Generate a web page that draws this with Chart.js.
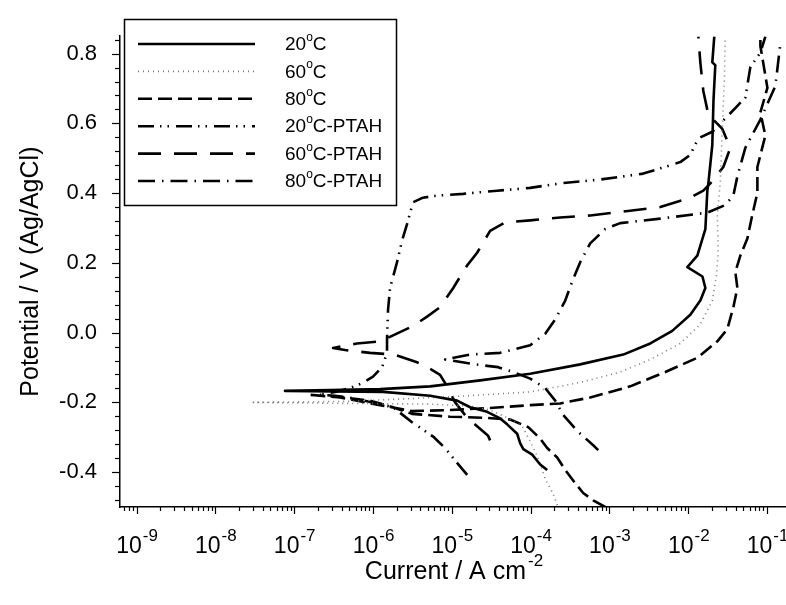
<!DOCTYPE html>
<html>
<head>
<meta charset="utf-8">
<script src="https://cdn.jsdelivr.net/npm/chart.js@4"></script>
<style>
html, body { margin: 0; padding: 0; background: #fff; }
#wrap { width: 786px; height: 605px; }
</style>
</head>
<body>
<div id="wrap"><canvas id="polChart" width="786" height="605"></canvas></div>
<script>
// each curve: log10(current / A cm-2) and potential (V vs Ag/AgCl),
// traced from the cathodic end, through Ecorr, out to the anodic end
const seriesLabels = ['20°C', '60°C', '80°C', '20°C-PTAH', '60°C-PTAH', '80°C-PTAH'];

const logI_20 = [-3.79, -3.879, -3.98, -4.093, -4.133, -4.171, -4.298, -4.387, -4.552, -4.768, -4.933, -5.275, -5.872, -7.117,
  -6.545, -5.91, -5.275, -4.64, -4.006, -3.371, -2.825, -2.482, -2.203, -1.974, -1.847, -1.783, -1.82, -2.012, -1.885,
  -1.783, -1.758, -1.745, -1.695, -1.68, -1.657, -1.695, -1.67];
const E_20 = [-0.394, -0.378, -0.350, -0.334, -0.317, -0.290, -0.263, -0.246, -0.227, -0.214, -0.195, -0.181, -0.170, -0.167,
  -0.165, -0.162, -0.154, -0.137, -0.118, -0.091, -0.063, -0.031, 0.005, 0.051, 0.092, 0.128, 0.161, 0.188, 0.221,
  0.297, 0.407, 0.428, 0.538, 0.666, 0.767, 0.775, 0.849];

const logI_60 = [-3.663, -3.714, -3.815, -3.917, -4.006, -4.107, -4.298, -4.514, -4.768, -5.275, -6.291, -7.52,
  -6.291, -5.022, -4.006, -3.371, -2.863, -2.482, -2.101, -1.847, -1.695, -1.644, -1.62, -1.631, -1.593, -1.568, -1.543, -1.53];
const E_60 = [-0.495, -0.462, -0.419, -0.353, -0.312, -0.268, -0.244, -0.222, -0.211, -0.205, -0.203, -0.200,
  -0.197, -0.184, -0.170, -0.143, -0.113, -0.077, -0.031, 0.024, 0.092, 0.161, 0.229, 0.338, 0.434, 0.584, 0.721, 0.849];

const logI_80 = [-3.054, -3.206, -3.333, -3.434, -3.561, -3.663, -3.79, -3.879, -4.03, -4.26, -4.601, -5.022, -5.505, -5.745,
  -6.037, -6.355, -6.825,
  -6.418, -5.91, -5.505, -5.022, -4.514, -4.006, -3.625, -3.244, -2.736, -2.291, -1.885, -1.631, -1.504, -1.428, -1.377,
  -1.403, -1.339, -1.25, -1.187, -1.123, -1.123, -1.022, -1.085, -0.996, -1.085, -1.085];
const E_80 = [-0.500, -0.481, -0.460, -0.432, -0.394, -0.358, -0.331, -0.304, -0.271, -0.249, -0.244, -0.241, -0.233, -0.214,
  -0.195, -0.186, -0.178,
  -0.186, -0.208, -0.225, -0.222, -0.216, -0.208, -0.203, -0.186, -0.154, -0.113, -0.072, -0.025, 0.010, 0.073, 0.128,
  0.174, 0.221, 0.270, 0.338, 0.401, 0.475, 0.565, 0.631, 0.702, 0.822, 0.849];

const logI_20P = [-4.805, -4.958, -5.085, -5.237, -5.505, -5.745, -5.949, -6.228, -6.482, -6.697,
  -6.482, -6.291, -6.139, -6.0, -5.885, -5.822, -5.822, -5.809, -5.784, -5.695, -5.631, -5.568, -5.492, -5.365, -5.186,
  -4.855, -4.425, -4.006, -3.625, -3.117, -2.571, -2.101, -1.974, -1.872, -1.695, -1.403, -1.276, -1.212, -1.085, -1.022];
const E_20P = [-0.408, -0.367, -0.331, -0.298, -0.257, -0.214, -0.203, -0.189, -0.181, -0.178,
  -0.170, -0.159, -0.145, -0.126, -0.099, -0.058, -0.017, 0.065, 0.128, 0.202, 0.264, 0.311, 0.374, 0.387, 0.393,
  0.398, 0.407, 0.415, 0.428, 0.439, 0.456, 0.489, 0.510, 0.557, 0.576, 0.644, 0.674, 0.762, 0.803, 0.849];

const logI_60P = [-4.514, -4.539, -4.805, -4.958, -5.06, -5.149, -5.275, -5.441, -5.733, -6.037, -6.355, -6.507,
  -6.203, -5.91, -5.745, -5.492, -5.314, -5.149, -4.982, -4.805, -4.679, -4.514, -4.324, -4.006, -3.625, -3.244,
  -2.863, -2.355, -1.974, -1.809, -1.72, -1.555, -1.466, -1.568, -1.745, -1.809, -1.847, -1.872];
const E_60P = [-0.309, -0.296, -0.244, -0.200, -0.154, -0.121, -0.104, -0.085, -0.063, -0.058, -0.050, -0.044,
  -0.031, -0.025, -0.008, 0.019, 0.046, 0.073, 0.128, 0.193, 0.229, 0.292, 0.316, 0.322, 0.330, 0.336,
  0.346, 0.360, 0.387, 0.407, 0.428, 0.475, 0.530, 0.584, 0.625, 0.693, 0.775, 0.849];

const logI_80P = [-3.142, -3.206, -3.409, -3.587, -3.688, -3.815, -4.006, -4.222, -4.412, -4.704, -5.085,
  -4.768, -4.387, -4.006, -3.815, -3.688, -3.561, -3.472, -3.371, -3.244, -3.054, -2.863, -2.355, -1.758, -1.53,
  -1.428, -1.377, -1.276, -1.085, -0.895, -0.831];
const E_80P = [-0.337, -0.323, -0.282, -0.236, -0.195, -0.159, -0.132, -0.113, -0.099, -0.091, -0.077,
  -0.063, -0.058, -0.036, -0.003, 0.038, 0.092, 0.147, 0.202, 0.256, 0.297, 0.314, 0.327, 0.344, 0.366,
  0.393, 0.448, 0.530, 0.611, 0.707, 0.830];

const xDecades = [-9, -8, -7, -6, -5, -4, -3, -2, -1];
const yTickLabels = ['-0.4', '-0.2', '0.0', '0.2', '0.4', '0.6', '0.8'];

const curves = [[logI_20, E_20], [logI_60, E_60], [logI_80, E_80], [logI_20P, E_20P], [logI_60P, E_60P], [logI_80P, E_80P]];

const lineStyles = [
  { color: '#000', width: 2.6, dash: [] },
  { color: '#7a7a7a', width: 1.6, dash: [1, 4] },
  { color: '#000', width: 2.6, dash: [14, 6] },
  { color: '#000', width: 2.6, dash: [16, 6, 1.5, 6, 1.5, 7] },
  { color: '#000', width: 2.6, dash: [23, 13] },
  { color: '#000', width: 2.6, dash: [17, 7, 1.5, 7] }
];

const FONT = '"Liberation Sans", Arial, sans-serif';

const datasets = curves.map((c, i) => ({
  label: seriesLabels[i],
  data: c[0].map((v, k) => ({ x: Math.pow(10, v), y: c[1][k] })),
  showLine: true,
  borderColor: lineStyles[i].color,
  borderWidth: lineStyles[i].width,
  borderDash: lineStyles[i].dash,
  borderCapStyle: 'butt',
  borderJoinStyle: 'round',
  pointRadius: 0,
  tension: 0
}));

// text with the "°" drawn as a raised small "o", like the original
function drawDegreeText(ctx, text, x, y, size) {
  const parts = text.split('°');
  ctx.font = size + 'px ' + FONT;
  ctx.fillText(parts[0], x, y);
  x += ctx.measureText(parts[0]).width;
  if (parts.length > 1) {
    ctx.font = Math.round(size * 0.65) + 'px ' + FONT;
    ctx.fillText('o', x, y - size * 0.38);
    x += ctx.measureText('o').width;
    ctx.font = size + 'px ' + FONT;
    ctx.fillText(parts[1], x, y);
  }
}

const decorPlugin = {
  id: 'decor',
  afterDraw(chart) {
    const ctx = chart.ctx;
    const xs = chart.scales.x, ys = chart.scales.y;
    const area = chart.chartArea;
    ctx.save();
    ctx.strokeStyle = '#000';
    ctx.fillStyle = '#000';
    ctx.lineWidth = 1.2;

    // tick marks
    ys.ticks.forEach(t => {
      const py = Math.round(ys.getPixelForValue(t.value)) + 0.5;
      const major = Math.abs(t.value * 5 - Math.round(t.value * 5)) < 1e-6;
      const len = major ? 8 : 5;
      ctx.beginPath();
      ctx.moveTo(area.left - len, py);
      ctx.lineTo(area.left, py);
      ctx.stroke();
    });
    xs.ticks.forEach(t => {
      const px = Math.round(xs.getPixelForValue(t.value)) + 0.5;
      const lg = Math.log10(t.value);
      const major = Math.abs(lg - Math.round(lg)) < 1e-6;
      const len = major ? 7 : 4;
      ctx.beginPath();
      ctx.moveTo(px, area.bottom);
      ctx.lineTo(px, area.bottom + len);
      ctx.stroke();
    });

    // decade labels 10^n
    ctx.textBaseline = 'alphabetic';
    ctx.textAlign = 'left';
    xDecades.forEach(e => {
      const px = xs.getPixelForValue(Math.pow(10, e));
      ctx.font = '23px ' + FONT;
      const wBase = ctx.measureText('10').width;
      ctx.font = '17px ' + FONT;
      const wExp = ctx.measureText(String(e)).width;
      const x0 = px - (wBase + wExp) / 2;
      ctx.font = '23px ' + FONT;
      ctx.fillText('10', x0, 553);
      ctx.font = '17px ' + FONT;
      ctx.fillText(String(e), x0 + wBase + 1, 541);
    });

    // axis titles
    ctx.font = '25px ' + FONT;
    const t1 = 'Current / A cm';
    const w1 = ctx.measureText(t1).width;
    ctx.font = '17px ' + FONT;
    const w2 = ctx.measureText('-2').width;
    const cx = (area.left + area.right) / 2;
    ctx.font = '25px ' + FONT;
    ctx.fillText(t1, cx - (w1 + w2) / 2, 579);
    ctx.font = '17px ' + FONT;
    ctx.fillText('-2', cx - (w1 + w2) / 2 + w1 + 2, 566);

    ctx.save();
    ctx.translate(38, (area.top + area.bottom) / 2);
    ctx.rotate(-Math.PI / 2);
    ctx.font = '25px ' + FONT;
    ctx.textAlign = 'center';
    ctx.fillText('Potential / V (Ag/AgCl)', 0, 0);
    ctx.restore();

    // legend
    ctx.lineWidth = 1.5;
    ctx.strokeRect(124.5, 19.5, 272, 186);
    chart.data.datasets.forEach((ds, i) => {
      const ly = 44 + i * 27.4;
      ctx.save();
      ctx.strokeStyle = ds.borderColor;
      ctx.lineWidth = ds.borderWidth;
      ctx.setLineDash(ds.borderDash);
      ctx.lineCap = 'butt';
      ctx.beginPath();
      ctx.moveTo(138, ly);
      ctx.lineTo(255, ly);
      ctx.stroke();
      ctx.restore();
      ctx.textBaseline = 'middle';
      ctx.textAlign = 'left';
      drawDegreeText(ctx, ds.label, 285, ly + 1, 19);
    });
    ctx.restore();
  }
};

new Chart(document.getElementById('polChart'), {
  type: 'scatter',
  data: { datasets: datasets },
  options: {
    responsive: false,
    animation: false,
    devicePixelRatio: 1,
    layout: { padding: { top: 13, right: 0, left: 0, bottom: 0 } },
    plugins: { legend: { display: false }, tooltip: { enabled: false } },
    scales: {
      x: {
        type: 'logarithmic',
        position: 'bottom',
        min: Math.pow(10, -9.21),
        max: Math.pow(10, -0.76),
        grid: { display: false, drawTicks: false },
        border: { display: true, color: '#000', width: 1.5 },
        ticks: { display: false },
        afterBuildTicks: scale => {
          const t = [];
          for (let e = -10; e <= 0; e++) {
            for (let m = 1; m <= 9; m++) {
              const v = m * Math.pow(10, e);
              if (v >= scale.min && v <= scale.max) t.push({ value: v });
            }
          }
          scale.ticks = t;
        },
        afterFit: scale => { scale.height = 98; }
      },
      y: {
        type: 'linear',
        min: -0.5,
        max: 0.85,
        grid: { display: false, drawTicks: false },
        border: { display: true, color: '#000', width: 1.5 },
        ticks: {
          autoSkip: false,
          padding: 23,
          color: '#000',
          font: { family: FONT, size: 22 },
          callback: v => {
            const s = (Math.abs(v) < 1e-9 ? 0 : v).toFixed(1);
            const major = Math.abs(v * 5 - Math.round(v * 5)) < 1e-6;
            return major && yTickLabels.includes(s) ? s : '';
          }
        },
        afterBuildTicks: scale => {
          const t = [];
          for (let k = -12; k <= 21; k++) t.push({ value: Math.round(k * 0.04 * 100) / 100 });
          scale.ticks = t;
        },
        afterFit: scale => { scale.width = 120; }
      }
    }
  },
  plugins: [decorPlugin]
});
</script>
</body>
</html>
